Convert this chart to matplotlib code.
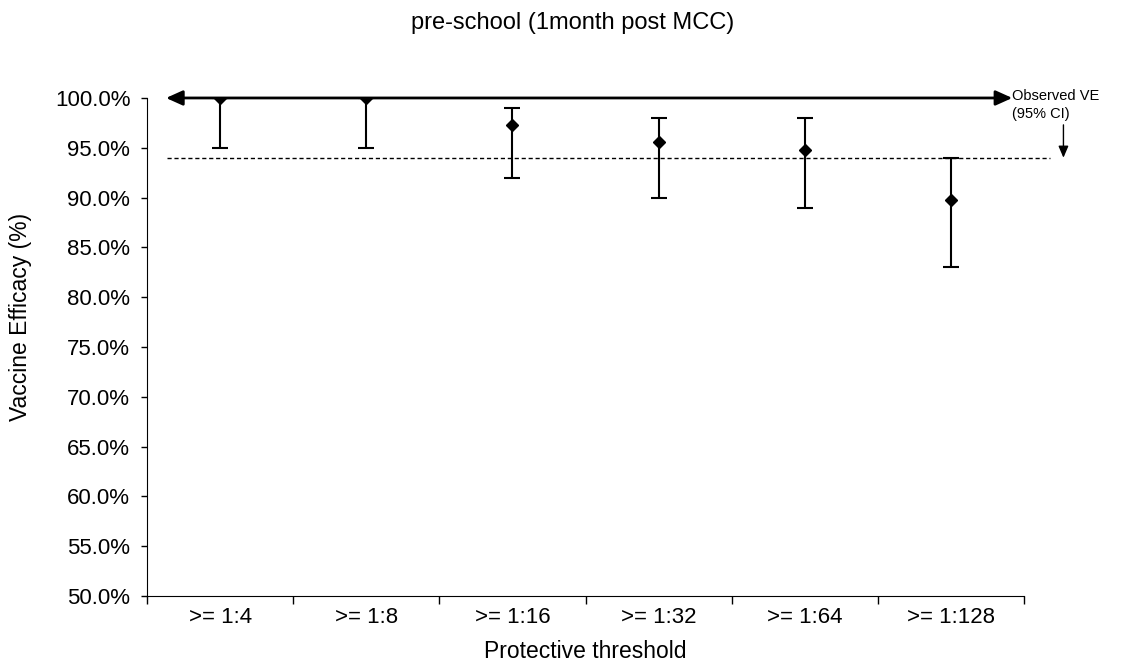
import matplotlib
matplotlib.use('Agg')
import matplotlib.pyplot as plt
import matplotlib.ticker as mticker
import numpy as np

plt.rcParams['font.family'] = ['Liberation Sans', 'DejaVu Sans']

thresholds = ['>= 1:4', '>= 1:8', '>= 1:16', '>= 1:32', '>= 1:64', '>= 1:128']
ve = [100.0, 100.0, 97.3, 95.6, 94.8, 89.8]
ci_low = [95.0, 95.0, 92.0, 90.0, 89.0, 83.0]
ci_high = [100.0, 100.0, 99.0, 98.0, 98.0, 94.0]
observed_ve = 94.0
observed_ci = (94.0, 100.0)

fig = plt.figure(figsize=(11.25, 6.62), dpi=100)
ax = fig.add_axes([0.1307, 0.0997, 0.7795, 0.7523])

x = np.arange(len(thresholds))
ve = np.array(ve)
yerr = [ve - np.array(ci_low), np.array(ci_high) - ve]
ax.errorbar(x, ve, yerr=yerr, fmt='D', color='black', markersize=6,
            ecolor='black', elinewidth=1.5, capsize=6, capthick=1.5, zorder=5)

# observed VE: dashed point estimate, double arrow for CI
ax.plot([-0.36, 5.68], [observed_ve, observed_ve], linestyle=(0, (3, 2)),
        color='black', linewidth=1, clip_on=False, zorder=2)
ax.annotate('', xy=(-0.37, observed_ci[1]), xytext=(5.42, observed_ci[1]),
            arrowprops=dict(arrowstyle='<|-|>,head_length=1.0,head_width=0.45',
                            color='black', lw=2, shrinkA=0, shrinkB=0),
            annotation_clip=False, zorder=3)
ax.text(5.42, 99.3, 'Observed VE\n(95% CI)', fontsize=10.5, ha='left', va='center',
        linespacing=1.3)
ax.annotate('', xy=(5.77, observed_ve), xytext=(5.77, 97.3),
            arrowprops=dict(arrowstyle='-|>,head_length=0.7,head_width=0.3',
                            color='black', lw=1, shrinkA=0, shrinkB=0),
            annotation_clip=False)

ax.set_xlim(-0.5, len(thresholds) - 0.5)
ax.set_ylim(50, 100)
ax.set_yticks(np.arange(50, 100.1, 5))
ax.yaxis.set_major_formatter(mticker.FuncFormatter(lambda v, p: f'{v:.1f}%'))
ax.set_xticks(x)
ax.set_xticklabels(thresholds)
ax.xaxis.set_minor_locator(mticker.FixedLocator(np.arange(-0.5, len(thresholds), 1)))
ax.tick_params(axis='x', which='major', length=0, pad=8, labelsize=16)
ax.tick_params(axis='x', which='minor', length=6, width=1)
ax.tick_params(axis='y', length=4, width=1, labelsize=16, pad=8)
ax.spines['top'].set_visible(False)
ax.spines['right'].set_visible(False)

ax.set_xlabel('Protective threshold', fontsize=16.5)
ax.xaxis.set_label_coords(0.5, -0.088)
ax.set_ylabel('Vaccine Efficacy (%)', fontsize=16.5)
ax.yaxis.set_label_coords(-0.131, 0.56)
fig.text(0.509, 0.965, 'pre-school (1month post MCC)', fontsize=17, ha='center', va='center')

fig.savefig('out.png', dpi=100)
plt.close()
